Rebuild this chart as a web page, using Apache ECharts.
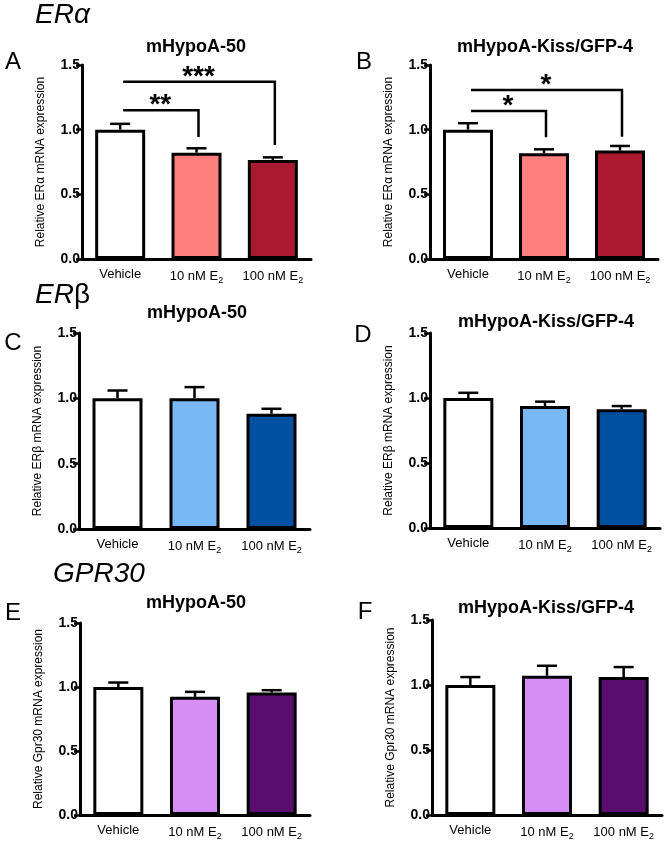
<!DOCTYPE html>
<html><head><meta charset="utf-8">
<script src="https://cdn.jsdelivr.net/npm/echarts@6/dist/echarts.min.js"></script>
<style>html,body{margin:0;padding:0;background:#fff}#c{width:665px;height:841px}</style>
</head><body><div id="c"></div>
<script>
const categories = ['Vehicle', '10 nM E2', '100 nM E2'];
const yTicks = [0, 0.5, 1.0, 1.5];

const erA_50_mean = [1.00, 0.822, 0.766];
const erA_50_sem = [0.045, 0.034, 0.020];
const erA_kiss_mean = [1.00, 0.817, 0.838];
const erA_kiss_sem = [0.050, 0.031, 0.036];
const erB_50_mean = [1.00, 1.00, 0.882];
const erB_50_sem = [0.060, 0.086, 0.038];
const erB_kiss_mean = [1.00, 0.938, 0.913];
const erB_kiss_sem = [0.040, 0.034, 0.025];
const gpr_50_mean = [1.00, 0.923, 0.957];
const gpr_50_sem = [0.035, 0.039, 0.018];
const gpr_kiss_mean = [1.00, 1.071, 1.061];
const gpr_kiss_sem = [0.061, 0.077, 0.077];

// significance brackets: [fromCategory, toCategory, bracketHeight, dropTo]
const sigA_brackets = [[0, 1, 1.15, 0.944], [0, 2, 1.37, 0.882]];
const sigA_labels = ['**', '***'];
const sigB_brackets = [[0, 1, 1.145, 0.941], [0, 2, 1.307, 0.946]];
const sigB_labels = ['*', '*'];

const FONT = '"Liberation Sans", Arial, Helvetica, sans-serif';
const palRed = ['#ffffff', '#FF7F7F', '#AB1A30'];
const palBlue = ['#ffffff', '#78B8F5', '#0050A2'];
const palPurple = ['#ffffff', '#D68EF5', '#5A0E6E'];

const panels = [
  {grid:{left:82, top:65, width:229, height:194}, mean:erA_50_mean, sem:erA_50_sem, pal:palRed, yname:'Relative ERα mRNA expression', sig:sigA_brackets, sigL:sigA_labels},
  {grid:{left:430, top:65, width:228, height:194}, mean:erA_kiss_mean, sem:erA_kiss_sem, pal:palRed, yname:'Relative ERα mRNA expression', sig:sigB_brackets, sigL:sigB_labels},
  {grid:{left:79, top:333, width:231, height:196}, mean:erB_50_mean, sem:erB_50_sem, pal:palBlue, yname:'Relative ERβ mRNA expression'},
  {grid:{left:430, top:333, width:230, height:195}, mean:erB_kiss_mean, sem:erB_kiss_sem, pal:palBlue, yname:'Relative ERβ mRNA expression'},
  {grid:{left:80, top:623, width:230, height:192}, mean:gpr_50_mean, sem:gpr_50_sem, pal:palPurple, yname:'Relative Gpr30 mRNA expression'},
  {grid:{left:432, top:620, width:230, height:196}, mean:gpr_kiss_mean, sem:gpr_kiss_sem, pal:palPurple, yname:'Relative Gpr30 mRNA expression'}
];

const grid = [], xAxis = [], yAxis = [], series = [];
panels.forEach((p, i) => {
  grid.push(p.grid);
  xAxis.push({
    type:'category', gridIndex:i, data:categories,
    axisLine:{lineStyle:{color:'#000', width:3}},
    axisTick:{alignWithLabel:true, length:5, lineStyle:{color:'#000', width:2.5}},
    axisLabel:{interval:0, hideOverlap:false, margin:9, color:'#000', fontFamily:FONT, fontSize:13,
      formatter: v => v.replace(/E2$/, 'E{sub|2}'),
      rich:{sub:{fontSize:9, fontFamily:FONT, color:'#000', verticalAlign:'bottom', padding:[8,0,0,0]}}}
  });
  yAxis.push({
    type:'value', gridIndex:i, min:0, max:1.5, interval:0.5,
    axisLine:{show:true, lineStyle:{color:'#000', width:3}},
    axisTick:{show:true, length:6, lineStyle:{color:'#000', width:2.5}},
    splitLine:{show:false},
    axisLabel:{margin:2, color:'#000', fontFamily:FONT, fontSize:14, fontWeight:'bold', formatter: v => v.toFixed(1)},
    name:p.yname, nameLocation:'middle', nameRotate:90, nameGap:35,
    nameTextStyle:{fontFamily:FONT, fontSize:12, color:'#000'}
  });
  series.push({
    type:'bar', xAxisIndex:i, yAxisIndex:i, barWidth:50,
    data:p.mean.map((v, k) => ({value:v, itemStyle:{color:p.pal[k]}})),
    itemStyle:{borderColor:'#000', borderWidth:3},
    emphasis:{disabled:true}, z:2
  });
  series.push({
    type:'custom', xAxisIndex:i, yAxisIndex:i, z:3,
    data:p.mean.map((v, k) => [k, v, p.sem[k]]),
    renderItem:(params, api) => {
      const x = api.value(0), v = api.value(1), e = api.value(2);
      const p0 = api.coord([x, v]), p1 = api.coord([x, v + e]);
      const hw = 10;
      return {type:'group', children:[
        {type:'line', shape:{x1:p0[0], y1:p0[1], x2:p1[0], y2:p1[1]}, style:{stroke:'#000', lineWidth:2.5}},
        {type:'line', shape:{x1:p1[0]-hw, y1:p1[1], x2:p1[0]+hw, y2:p1[1]}, style:{stroke:'#000', lineWidth:2.5}}
      ]};
    }
  });
  if (p.sig) {
    const labels = p.sigL;
    series.push({
      type:'custom', xAxisIndex:i, yAxisIndex:i, z:4,
      data:p.sig,
      renderItem:(params, api) => {
        const a = api.coord([api.value(0), api.value(2)]);
        const b = api.coord([api.value(1), api.value(2)]);
        const c = api.coord([api.value(1), api.value(3)]);
        const lab = labels[params.dataIndex];
        return {type:'group', children:[
          {type:'polyline', shape:{points:[[a[0]+3, a[1]], [b[0]+2, b[1]], [c[0]+2, c[1]]]}, style:{stroke:'#000', lineWidth:2.5, fill:null}},
          {type:'text', x:(a[0]+b[0])/2 + 2, y:a[1] + 9, style:{text:lab, fill:'#000', font:'bold 28px ' + FONT, align:'center', verticalAlign:'bottom'}}
        ]};
      }
    });
  }
});

function txt(x, y, text, font, align) {
  return {type:'text', x:x, y:y, style:{text:text, font:font, fill:'#000', align:align || 'center', verticalAlign:'middle'}};
}
const titleFont = 'bold 18px ' + FONT;
const letterFont = '24px ' + FONT;
const geneFont = 'italic 28px ' + FONT;
const graphic = [
  txt(35, 15, 'ERα', geneFont, 'left'),
  {type:'text', x:35, y:295, style:{text:'{i|ER}{n|β}', fill:'#000', align:'left', verticalAlign:'middle',
    rich:{i:{font:geneFont, fill:'#000'}, n:{font:'28px ' + FONT, fill:'#000'}}}},
  txt(53, 574, 'GPR30', geneFont, 'left'),
  txt(196, 47, 'mHypoA-50', titleFont),
  txt(545, 47, 'mHypoA-Kiss/GFP-4', titleFont),
  txt(197, 313, 'mHypoA-50', titleFont),
  txt(546, 322, 'mHypoA-Kiss/GFP-4', titleFont),
  txt(196, 603, 'mHypoA-50', titleFont),
  txt(546, 608, 'mHypoA-Kiss/GFP-4', titleFont),
  txt(13, 62, 'A', letterFont),
  txt(364, 62, 'B', letterFont),
  txt(13, 343, 'C', letterFont),
  txt(363, 335, 'D', letterFont),
  txt(13, 613, 'E', letterFont),
  txt(365, 612, 'F', letterFont)
];

const chart = echarts.init(document.getElementById('c'), null, {renderer:'canvas'});
chart.setOption({animation:false, backgroundColor:'#fff', grid, xAxis, yAxis, series, graphic});
</script>
</body></html>
